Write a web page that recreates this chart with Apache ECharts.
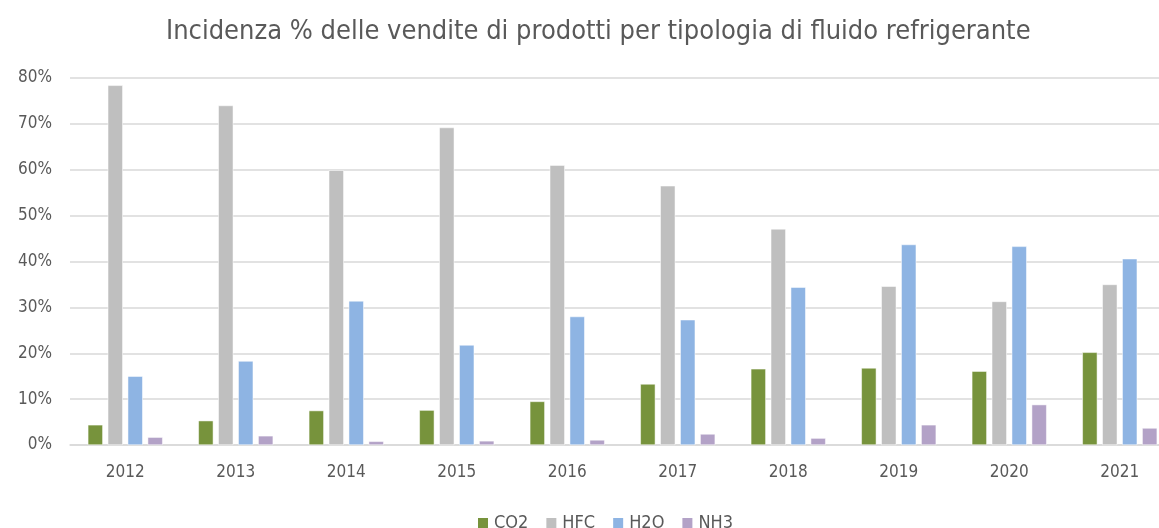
<!DOCTYPE html>
<html>
<head>
<meta charset="utf-8">
<script src="https://cdn.jsdelivr.net/npm/echarts@6/dist/echarts.min.js"></script>
<style>
  html, body { margin: 0; padding: 0; background: #fff; }
  #echarts { width: 1159px; height: 528px; }
</style>
</head>
<body>
<div id="echarts"></div>
<script>
const years = ['2012', '2013', '2014', '2015', '2016', '2017', '2018', '2019', '2020', '2021'];
const co2 = [4.4, 5.3, 7.5, 7.6, 9.5, 13.3, 16.6, 16.8, 16.1, 20.2];
const hfc = [78.4, 74.0, 59.9, 69.2, 61.0, 56.5, 47.1, 34.6, 31.3, 35.0];
const h2o = [15.0, 18.3, 31.4, 21.8, 28.0, 27.3, 34.4, 43.7, 43.3, 40.6];
const nh3 = [1.7, 2.0, 0.8, 0.9, 1.1, 2.4, 1.5, 4.4, 8.8, 3.7];
const yTicks = [0, 10, 20, 30, 40, 50, 60, 70, 80];

const font = "'Liberation Sans Narrow', 'DejaVu Sans Condensed', sans-serif";
const textColor = '#595959';

const chartDom = document.getElementById('echarts');
const myChart = echarts.init(chartDom);

// 每个系列的公共样式
function makeSeries(name, data, color) {
    return {
        name: name,
        type: 'bar',
        data: data,
        barWidth: 15,
        barGap: '33%',
        itemStyle: {
            color: color,
            borderColor: '#fff',
            borderWidth: 0.5
        }
    };
}

let option = {
    animation: false,
    textStyle: { fontFamily: font },
    title: {
        text: 'Incidenza % delle vendite di prodotti per tipologia di fluido refrigerante',
        left: 161,
        top: 13,
        textStyle: {
            fontFamily: font,
            fontSize: 27,
            fontWeight: 'normal',
            color: textColor
        }
    },
    legend: {
        bottom: -9,
        left: 471,
        itemWidth: 12,
        itemHeight: 12,
        itemGap: 16,
        icon: 'rect',
        textStyle: { fontFamily: font, fontSize: 18, color: textColor },
        data: ['CO2', 'HFC', 'H2O', 'NH3']
    },
    grid: {
        left: 70,
        width: 1105,
        top: 78,
        bottom: 83,
        outerBoundsMode: 'none'
    },
    xAxis: {
        type: 'category',
        data: years,
        axisTick: { show: false },
        axisLine: { lineStyle: { color: '#d9d9d9', width: 1.5 } },
        axisLabel: { fontFamily: font, fontSize: 17, color: textColor, margin: 19 }
    },
    yAxis: {
        type: 'value',
        min: yTicks[0],
        max: yTicks[yTicks.length - 1],
        interval: 10,
        axisLine: { show: false },
        axisTick: { show: false },
        splitLine: { lineStyle: { color: '#d9d9d9', width: 1.5 } },
        axisLabel: {
            fontFamily: font,
            fontSize: 17,
            color: textColor,
            margin: 18,
            formatter: '{value}%'
        }
    },
    series: [
        makeSeries('CO2', co2, '#77933C'),
        makeSeries('HFC', hfc, '#BFBFBF'),
        makeSeries('H2O', h2o, '#8EB4E3'),
        makeSeries('NH3', nh3, '#B3A2C7')
    ]
};
option && myChart.setOption(option);
</script>
</body>
</html>
